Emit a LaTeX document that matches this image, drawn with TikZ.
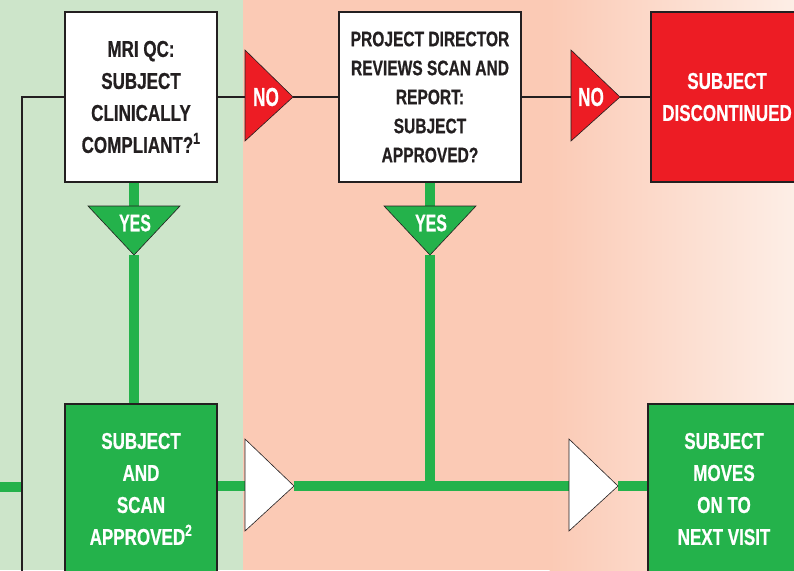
\documentclass[tikz,border=0pt]{standalone}
\usepackage{fontspec}
\newfontfamily\condfont{Liberation Sans}[FakeStretch=0.74, BoldFeatures={FakeBold=0.6}]
\newfontfamily\tricond{Liberation Sans}[FakeStretch=0.66, BoldFeatures={FakeBold=0.6}]
\definecolor{bggreen}{HTML}{CDE5CA}
\definecolor{bgpink}{HTML}{FBCAB5}
\definecolor{bglight}{HTML}{FDEEE6}
\definecolor{inkdark}{HTML}{231F20}
\definecolor{flowgreen}{HTML}{24B24B}
\definecolor{stopred}{HTML}{ED1C24}
\tikzset{
  box/.style={draw=inkdark, line width=2.5pt, minimum width=152pt, minimum height=170pt,
    inner sep=0pt, align=center, font=\condfont\bfseries\fontsize{23}{32}\selectfont},
  qbox/.style={box, fill=white, text=inkdark},
  gbox/.style={box, fill=flowgreen, text=white},
  rbox/.style={box, fill=stopred, text=white},
  tritxt/.style={inner sep=0pt, text=white, font=\tricond\bfseries\fontsize{26}{28}\selectfont},
  yestxt/.style={tritxt, font=\tricond\bfseries\fontsize{24}{26}\selectfont},
  blackline/.style={draw=inkdark, line width=2.5pt},
  greenline/.style={draw=flowgreen, line width=10pt},
  redtri/.style={fill=stopred, draw=inkdark, line width=0.6pt, line join=miter},
  greentri/.style={fill=flowgreen, draw=inkdark, line width=0.6pt, line join=miter},
  whitetri/.style={fill=white, draw=inkdark, line width=0.6pt, line join=miter},
}
\begin{document}
\begin{tikzpicture}[x=1pt, y=-1pt]
\useasboundingbox (0,0) rectangle (794,570);
\clip (0,0) rectangle (794,570);

% background bands
\fill[bggreen] (0,0) rectangle (243,570);
\fill[bgpink] (243,0) rectangle (550,570);
\shade[left color=bgpink, right color=bglight] (549.5,0) rectangle (794,570);

% decision and outcome boxes
\node[qbox] (mriqc) at (141,97) {MRI QC:\\SUBJECT\\CLINICALLY\\COMPLIANT?\textsuperscript{1}};
\node[qbox, minimum width=182pt, font=\condfont\bfseries\fontsize{21}{29}\selectfont] (director) at (430,97)
  {PROJECT DIRECTOR\\REVIEWS SCAN AND\\REPORT:\\SUBJECT\\APPROVED?};
\node[rbox] (discont) at (727,97) {SUBJECT\\DISCONTINUED};
\node[gbox] (approved) at (141,489) {SUBJECT\\AND\\SCAN\\APPROVED\textsuperscript{2}};
\node[gbox] (nextvisit) at (724,489) {SUBJECT\\MOVES\\ON TO\\NEXT VISIT};

% junction points of the connectors
\coordinate (no1in) at (245,97);   \coordinate (no1out) at (293,97);
\coordinate (no2in) at (571,97);   \coordinate (no2out) at (620,97);
\coordinate (yes1in) at (134,206); \coordinate (yes1out) at (134,255);
\coordinate (yes2in) at (430,206); \coordinate (yes2out) at (430,255);
\coordinate (go1in) at (245,486);  \coordinate (go1out) at (294,486);
\coordinate (go2in) at (569,486);  \coordinate (go2out) at (618,486);
\coordinate (merge) at (430,486);
\coordinate (loopcorner) at (22,97);
\coordinate (loopend) at (22,580);
\coordinate (feedin) at (-10,487);
\coordinate (feedend) at (22,487);

% green connectors
\draw[greenline] (feedin) -- (feedend);
\draw[greenline] (yes1in |- mriqc.south) -- (yes1in);
\draw[greenline] (yes1out) -- (yes1out |- approved.north);
\draw[greenline] (director.south) -- (yes2in);
\draw[greenline] (yes2out) -- (merge);
\draw[greenline] (approved.east |- go1in) -- (go1in);
\draw[greenline] (go1out) -- (go2in);
\draw[greenline] (go2out) -- (nextvisit.west |- go2out);

% black connectors
\draw[blackline] (mriqc.west) -- (loopcorner) -- (loopend);
\draw[blackline] (mriqc.east) -- (no1in);
\draw[blackline] (no1out) -- (director.west);
\draw[blackline] (director.east) -- (no2in);
\draw[blackline] (no2out) -- (discont.west);

% NO markers
\draw[redtri] (245,50) -- (no1out) -- (245,141) -- cycle;
\node[tritxt] (no1) at (266,97) {NO};
\draw[redtri] (571,50) -- (no2out) -- (571,141) -- cycle;
\node[tritxt] (no2) at (591,97) {NO};

% YES markers
\draw[greentri] (88,206) -- (180,206) -- (yes1out) -- cycle;
\node[yestxt] (yes1) at (135,223) {YES};
\draw[greentri] (384,206) -- (476,206) -- (yes2out) -- cycle;
\node[yestxt] (yes2) at (431,223) {YES};

% continuation markers
\draw[whitetri] (245,439) -- (go1out) -- (245,531) -- cycle;
\draw[whitetri] (569,439) -- (go2out) -- (569,531) -- cycle;
\end{tikzpicture}
\end{document}
